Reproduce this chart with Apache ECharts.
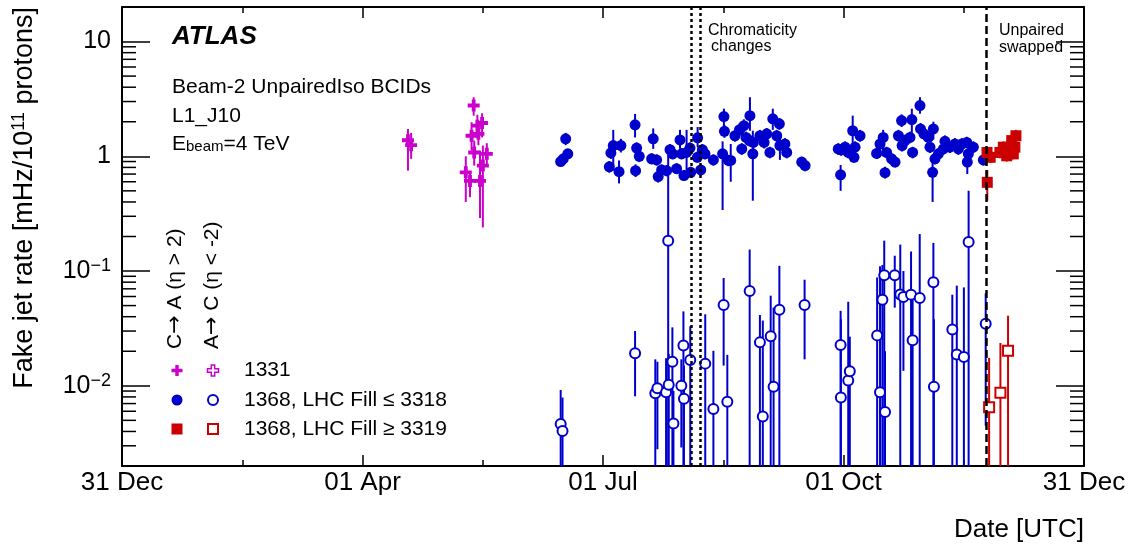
<!DOCTYPE html>
<html>
<head>
<meta charset="utf-8">
<script src="https://cdn.jsdelivr.net/npm/echarts@6/dist/echarts.min.js"></script>
<style>
html,body{margin:0;padding:0;background:#fff;}
#chart{width:1147px;height:548px;}
</style>
</head>
<body>
<div id="chart"></div>
<script>
// ---------- axes ----------
const xTickLabels = ['31 Dec', '01 Apr', '01 Jul', '01 Oct', '31 Dec']; // days since 31 Dec 2011, step 91.5
const xStepDays = 91.5;
const yTickValues = [0.01, 0.1, 1, 10];
const yTickLabels = ['10{s|\u22122}', '10{s|\u22121}', '1', '10'];
const yMinorTicks = [0.003,0.004,0.005,0.006,0.007,0.008,0.009,
                     0.02,0.03,0.04,0.05,0.06,0.07,0.08,0.09,
                     0.2,0.3,0.4,0.5,0.6,0.7,0.8,0.9,
                     2,3,4,5,6,7,8,9];

// ---------- vertical reference lines (days since 31 Dec 2011) ----------
const chromaticityDays = [216.4, 219.9];
const unpairedSwapDay = [329.0];

// ---------- BCID 1331, C->A (eta > 2) ----------
const b1331Days = [108.8, 110.0, 130.8, 132.4, 133.0, 133.8, 134.0, 135.2, 135.6, 136.2, 137.0, 137.3, 138.8];
const b1331Rate = [1.38, 1.25, 0.725, 0.61, 1.51, 2.77, 1.08, 1.85, 1.57, 0.61, 1.95, 0.83, 1.05];
const b1331Lo   = [0.75, 0.95, 0.40, 0.44, 1.12, 2.26, 0.83, 1.45, 1.25, 0.29, 1.46, 0.24, 0.85];
const b1331Hi   = [1.73, 1.60, 1.00, 0.70, 1.98, 3.27, 1.37, 2.30, 2.00, 1.12, 2.37, 1.24, 1.30];
// BCID 1331, A->C (eta < -2): no points in range
const b1331ACDays = [];
const b1331ACRate = [];

// ---------- BCID 1368, LHC Fill <= 3318, C->A ----------
const early368Days = [166.9,167.9,168.8,169.6,185.4,186.0,186.9,189.1,189.8,195.2,195.4,195.8,196.8,201.5,202.1,203.4,204.0,205.3,207.2,208.5,
  209.5,211.0,212.3,212.9,213.8,214.8,216.1,216.4,218.9,219.0,220.2,220.8,221.8,225.0,228.5,229.0,229.2,230.7,231.6,233.2,
  234.9,235.8,236.6,237.4,238.7,238.9,240.0,240.2,242.7,244.3,245.3,246.5,247.6,249.1,250.1,250.3,252.2,252.9,258.6,259.9,
  272.5,273.4,273.6,275.1,276.3,278.0,278.5,278.9,280.8,287.1,288.4,289.6,290.3,290.9,292.8,294.1,295.4,296.6,296.8,297.9,
  299.8,300.5,300.8,303.6,303.8,305.1,306.8,307.4,308.4,308.7,309.3,310.6,312.5,313.1,315.0,316.9,318.2,319.5,321.4,321.6,
  322.0,323.9,327.7];
const early368Rate = [0.90,0.95,1.42,1.05,0.81,1.07,1.24,0.735,1.24,1.88,0.75,1.18,1.00,0.95,1.42,0.93,0.665,0.76,0.75,1.14,
  1.05,0.78,1.39,1.05,0.68,1.08,1.18,0.725,0.98,1.45,0.76,1.14,1.05,0.93,1.05,2.22,1.65,0.92,0.92,1.51,
  1.70,1.16,1.85,1.46,1.37,2.26,1.05,1.32,1.51,1.32,1.57,1.08,2.12,1.51,1.92,1.24,1.28,1.08,0.89,0.83,
  1.16,0.69,1.14,1.20,1.08,1.67,0.98,1.20,1.51,1.06,1.28,1.46,0.72,1.08,0.95,0.89,1.51,2.05,1.24,1.37,
  1.46,2.09,1.08,2.77,1.73,1.57,1.46,1.20,0.725,1.73,0.95,1.05,1.16,1.35,1.20,1.28,1.16,1.28,1.32,0.89,
  1.05,1.20,0.93];
const early368Lo = [0.82,0.86,1.25,0.95,0.72,0.95,0.75,0.58,1.08,1.46,0.66,1.05,0.89,0.85,1.16,0.83,0.59,0.68,0.67,1.01,
  0.94,0.70,1.16,0.94,0.61,0.72,1.05,0.65,0.88,1.20,0.68,1.01,0.94,0.83,0.34,1.75,1.45,0.82,0.60,1.34,
  1.50,1.03,1.63,1.30,1.22,1.67,0.41,1.17,1.34,1.17,1.40,0.96,1.70,1.34,1.70,0.93,1.14,0.96,0.80,0.74,
  1.03,0.50,1.01,1.07,0.96,1.29,0.88,1.07,1.34,0.95,1.14,1.00,0.64,0.96,0.85,0.80,1.34,1.80,1.10,1.22,
  1.30,1.60,0.96,2.35,1.53,1.40,1.30,1.07,0.40,1.40,0.85,0.94,1.03,1.20,1.07,1.14,1.03,1.14,1.17,0.70,
  0.94,1.07,0.83];
const early368Hi = [0.99,1.05,1.60,1.16,0.91,1.20,1.70,0.92,1.42,2.34,0.85,1.32,1.12,1.06,1.75,1.04,0.75,0.85,0.84,1.28,
  1.18,0.87,1.70,1.18,0.76,1.70,1.32,0.81,1.10,1.80,0.85,1.28,1.18,1.04,1.35,2.60,1.88,1.03,1.28,1.70,
  1.92,1.30,2.10,1.64,1.54,3.27,1.67,1.48,1.70,1.48,1.76,1.21,2.60,1.70,2.16,1.46,1.44,1.21,0.99,0.93,
  1.30,0.84,1.28,1.35,1.21,2.26,1.10,1.35,1.70,1.19,1.44,1.70,0.81,1.21,1.06,0.99,1.70,2.32,1.40,1.54,
  1.64,2.60,1.21,3.27,1.95,1.76,1.64,1.35,0.95,2.00,1.06,1.18,1.30,1.52,1.35,1.44,1.30,1.44,1.48,1.05,
  1.18,1.35,1.04];

// ---------- BCID 1368, LHC Fill <= 3318, A->C ----------
const early368ACDays = [166.9,167.6,195.2,202.9,203.7,207.0,207.8,208.0,209.4,209.8,212.8,213.6,213.8,216.2,221.9,225.0,228.9,230.3,238.8,242.7,
  243.8,246.8,247.9,250.1,259.7,273.4,273.5,276.3,276.9,287.3,288.4,289.3,290.0,290.3,294.0,296.1,297.3,300.2,300.8,303.5,
  308.7,308.9,315.9,317.6,320.3,322.1,328.6];
const early368ACRate = [0.00465,0.00404,0.0192,0.0086,0.0095,0.0088,0.184,0.0102,0.0162,0.0047,0.0100,0.0224,0.0077,0.0168,0.0156,0.00628,0.0506,0.00727,0.067,0.0239,
  0.0054,0.027,0.0098,0.046,0.0506,0.0227,0.0079,0.0111,0.0134,0.0275,0.0088,0.0563,0.0918,0.0059,0.0918,0.0626,0.0594,0.0623,0.0249,0.0582,
  0.0797,0.0098,0.031,0.0187,0.0178,0.179,0.0348];
const early368ACLo = [0.001,0.001,0.0081,0.001,0.0028,0.001,0.001,0.001,0.001,0.001,0.0029,0.001,0.001,0.001,0.001,0.001,0.0150,0.001,0.001,0.001,
  0.001,0.001,0.001,0.001,0.017,0.001,0.001,0.001,0.001,0.001,0.001,0.001,0.001,0.001,0.048,0.001,0.0135,0.001,0.001,0.001,
  0.001,0.001,0.001,0.001,0.001,0.001,0.0045];
const early368ACHi = [0.0092,0.0079,0.030,0.017,0.0162,0.0174,1.15,0.019,0.0323,0.009,0.0170,0.0445,0.015,0.033,0.042,0.0202,0.087,0.0186,0.154,0.0414,
  0.037,0.061,0.048,0.111,0.084,0.045,0.038,0.054,0.0268,0.088,0.11,0.113,0.184,0.02,0.136,0.17,0.10,0.148,0.06,0.21,
  0.176,0.038,0.0622,0.0746,0.072,0.50,0.064];

// ---------- BCID 1368, LHC Fill >= 3319, C->A ----------
const late368Days = [329.1, 329.2, 330.3, 334.0, 335.3, 336.6, 337.8, 338.5, 339.1, 339.7, 340.1];
const late368Rate = [1.08, 0.593, 0.98, 1.08, 1.20, 1.01, 1.20, 1.37, 1.05, 1.20, 1.51];
const late368Lo   = [0.96, 0.41, 0.88, 0.96, 1.07, 0.90, 1.07, 1.22, 0.94, 1.07, 1.34];
const late368Hi   = [1.21, 0.76, 1.10, 1.21, 1.35, 1.13, 1.35, 1.54, 1.18, 1.35, 1.70];

// ---------- BCID 1368, LHC Fill >= 3319, A->C ----------
const late368ACDays = [329.9, 334.2, 337.1];
const late368ACRate = [0.0065, 0.0087, 0.0202];
const late368ACLo   = [0.001, 0.001, 0.001];
const late368ACHi   = [0.0175, 0.0236, 0.0408];

// ---------- styling ----------
const FONT = '"Liberation Sans", Arial, Helvetica, sans-serif';
const MAGENTA = '#cc00cc', BLUE = '#0000cc', RED = '#cc0000';
const PLUS = 'path://M3.4,0H6.6V3.4H10V6.6H6.6V10H3.4V6.6H0V3.4H3.4Z';

function pts(days, rate) { return days.map((d, i) => [d, rate[i]]); }
function errPts(days, lo, hi) { return days.map((d, i) => [d, lo[i], hi[i]]); }

function errSeries(days, lo, hi, color) {
  return {
    type: 'custom', xAxisIndex: 0, yAxisIndex: 0, silent: true, z: 2,
    data: errPts(days, lo, hi),
    encode: { x: 0, y: [1, 2] },
    renderItem: function (params, api) {
      const cs = params.coordSys;
      const a = api.coord([api.value(0), api.value(1)]);
      const b = api.coord([api.value(0), api.value(2)]);
      const clamp = v => Math.max(cs.y, Math.min(cs.y + cs.height, v));
      return { type: 'line', shape: { x1: a[0], y1: clamp(a[1]), x2: b[0], y2: clamp(b[1]) },
               style: { stroke: color, lineWidth: 2 } };
    }
  };
}

function plusPoints(cx, cy, s, t) {
  const h = s / 2, w = t / 2;
  return [[cx - w, cy - h], [cx + w, cy - h], [cx + w, cy - w], [cx + h, cy - w], [cx + h, cy + w], [cx + w, cy + w],
          [cx + w, cy + h], [cx - w, cy + h], [cx - w, cy + w], [cx - h, cy + w], [cx - h, cy - w], [cx - w, cy - w]];
}

const chart = echarts.init(document.getElementById('chart'), null, { renderer: 'canvas' });

const xAxisBase = {
  type: 'value', min: 0, max: 366, interval: xStepDays,
  axisLine: { show: true, onZero: false, lineStyle: { color: '#000', width: 2 } },
  axisTick: { show: true, inside: true, length: 11, lineStyle: { color: '#000', width: 1.5 } },
  minorTick: { show: true, splitNumber: 2, length: 6, lineStyle: { color: '#000', width: 1.5 } },
  splitLine: { show: false }, minorSplitLine: { show: false }
};
const yAxisBase = {
  type: 'log', logBase: 10, min: 0.002, max: 20,
  axisLine: { show: true, onZero: false, lineStyle: { color: '#000', width: 2 } },
  axisTick: { show: true, inside: true, length: 28, lineStyle: { color: '#000', width: 1.5 } },
  splitLine: { show: false }, minorTick: { show: false }
};

const arrowStyle = { fontFamily: '"DejaVu Sans", sans-serif', fontSize: 22, fill: '#000' };

const option = {
  animation: false,
  backgroundColor: '#fff',
  grid: { left: 122, top: 7, width: 962, height: 459, outerBoundsMode: 'none', containLabel: false },
  xAxis: [
    Object.assign({}, xAxisBase, {
      position: 'bottom',
      axisLabel: {
        show: true, color: '#000', fontSize: 26, fontFamily: FONT, margin: 4,
        showMinLabel: true, showMaxLabel: true,
        formatter: v => { const i = Math.round(v / xStepDays); return Math.abs(i * xStepDays - v) < 1e-6 ? (xTickLabels[i] || '') : ''; }
      }
    }),
    Object.assign({}, xAxisBase, { position: 'top', axisLabel: { show: false } })
  ],
  yAxis: [
    Object.assign({}, yAxisBase, {
      position: 'left',
      axisLabel: {
        show: true, color: '#000', fontSize: 25, fontFamily: FONT, margin: 11,
        formatter: v => {
          const i = yTickValues.findIndex(t => Math.abs(Math.log10(v / t)) < 1e-6);
          return i < 0 ? '' : yTickLabels[i];
        },
        rich: { s: { fontSize: 18, fontFamily: FONT, color: '#000', verticalAlign: 'bottom', padding: [0, 0, 10, 0] } }
      }
    }),
    Object.assign({}, yAxisBase, { position: 'right', axisLabel: { show: false } })
  ],
  series: [
    errSeries(b1331Days, b1331Lo, b1331Hi, MAGENTA),
    errSeries(early368Days, early368Lo, early368Hi, BLUE),
    errSeries(early368ACDays, early368ACLo, early368ACHi, BLUE),
    errSeries(late368Days, late368Lo, late368Hi, RED),
    errSeries(late368ACDays, late368ACLo, late368ACHi, RED),
    { name: '1331 C\u2192A', type: 'scatter', z: 3, symbol: PLUS, symbolSize: 12,
      itemStyle: { color: MAGENTA, opacity: 1 }, data: pts(b1331Days, b1331Rate) },
    { name: '1331 A\u2192C', type: 'scatter', z: 3, symbol: PLUS, symbolSize: 12,
      itemStyle: { color: '#fff', borderColor: MAGENTA, borderWidth: 1.5, opacity: 1 }, data: pts(b1331ACDays, b1331ACRate) },
    { name: '1368 Fill<=3318 A\u2192C', type: 'scatter', z: 3, symbol: 'emptyCircle', symbolSize: 10,
      itemStyle: { color: BLUE, borderColor: BLUE, borderWidth: 2, opacity: 1 }, data: pts(early368ACDays, early368ACRate) },
    { name: '1368 Fill<=3318 C\u2192A', type: 'scatter', z: 3, symbol: 'circle', symbolSize: 11,
      itemStyle: { color: BLUE, opacity: 1 }, data: pts(early368Days, early368Rate),
      markLine: {
        silent: true, symbol: ['none', 'none'], label: { show: false }, animation: false,
        data: chromaticityDays.map(d => ({ xAxis: d, lineStyle: { color: '#000', width: 2.5, type: [3, 3] } }))
          .concat(unpairedSwapDay.map(d => ({ xAxis: d, lineStyle: { color: '#000', width: 2.5, type: [8, 4] } })))
      } },
    { name: '1368 Fill>=3319 A\u2192C', type: 'scatter', z: 3, symbol: 'emptyRect', symbolSize: 10,
      itemStyle: { color: RED, borderColor: RED, borderWidth: 2, opacity: 1 }, data: pts(late368ACDays, late368ACRate) },
    { name: '1368 Fill>=3319 C\u2192A', type: 'scatter', z: 3, symbol: 'rect', symbolSize: 11,
      itemStyle: { color: RED, opacity: 1 }, data: pts(late368Days, late368Rate) },
    { type: 'custom', silent: true, z: 4, xAxisIndex: 0, yAxisIndex: 0,
      data: yMinorTicks.map(v => [0, v]), encode: { x: 0, y: 1 },
      renderItem: function (params, api) {
        const cs = params.coordSys;
        const y = api.coord([0, api.value(1)])[1];
        return { type: 'group', children: [
          { type: 'line', shape: { x1: cs.x, y1: y, x2: cs.x + 14, y2: y }, style: { stroke: '#000', lineWidth: 1.5 } },
          { type: 'line', shape: { x1: cs.x + cs.width - 14, y1: y, x2: cs.x + cs.width, y2: y }, style: { stroke: '#000', lineWidth: 1.5 } }
        ] };
      } }
  ],
  graphic: [
    { type: 'text', x: 172, y: 37, z: 10, style: { text: 'ATLAS', fontFamily: FONT, fontSize: 26, fontWeight: 'bold', fontStyle: 'italic', fill: '#000', verticalAlign: 'middle' } },
    { type: 'text', x: 172, y: 87, z: 10, style: { text: 'Beam-2 UnpairedIso BCIDs', fontFamily: FONT, fontSize: 21, fill: '#000', verticalAlign: 'middle' } },
    { type: 'text', x: 172, y: 116, z: 10, style: { text: 'L1_J10', fontFamily: FONT, fontSize: 21, fill: '#000', verticalAlign: 'middle' } },
    { type: 'text', x: 172, y: 144, z: 10, style: { text: 'E{b|beam}=4 TeV', fontFamily: FONT, fontSize: 21, fill: '#000', verticalAlign: 'middle',
        rich: { b: { fontFamily: FONT, fontSize: 15, fill: '#000', verticalAlign: 'bottom', padding: [6, 0, 0, 0] } } } },
    { type: 'text', x: 708, y: 31, z: 10, style: { text: 'Chromaticity', fontFamily: FONT, fontSize: 16, fill: '#000', verticalAlign: 'middle' } },
    { type: 'text', x: 711, y: 47, z: 10, style: { text: 'changes', fontFamily: FONT, fontSize: 16, fill: '#000', verticalAlign: 'middle' } },
    { type: 'text', x: 999, y: 31, z: 10, style: { text: 'Unpaired', fontFamily: FONT, fontSize: 16, fill: '#000', verticalAlign: 'middle' } },
    { type: 'text', x: 999, y: 48, z: 10, style: { text: 'swapped', fontFamily: FONT, fontSize: 16, fill: '#000', verticalAlign: 'middle' } },
    // axis titles
    { type: 'text', x: 25, y: 7, rotation: Math.PI / 2, z: 10,
      style: { text: 'Fake jet rate [mHz/10{s|11} protons]', fontFamily: FONT, fontSize: 27, fill: '#000', align: 'right', verticalAlign: 'middle',
        rich: { s: { fontFamily: FONT, fontSize: 18, fill: '#000', verticalAlign: 'bottom', padding: [0, 0, 11, 0] } } } },
    { type: 'text', x: 1084, y: 530, z: 10, style: { text: 'Date [UTC]', fontFamily: FONT, fontSize: 26, fill: '#000', align: 'right', verticalAlign: 'middle' } },
    // legend column headers
    { type: 'text', x: 175, y: 349, rotation: Math.PI / 2, z: 10, style: { text: 'C{a|\u2192} A (\u03B7 > 2)', fontFamily: FONT, fontSize: 21, fill: '#000', align: 'left', verticalAlign: 'middle', rich: { a: arrowStyle } } },
    { type: 'text', x: 212, y: 349, rotation: Math.PI / 2, z: 10, style: { text: 'A{a|\u2192} C (\u03B7 < -2)', fontFamily: FONT, fontSize: 21, fill: '#000', align: 'left', verticalAlign: 'middle', rich: { a: arrowStyle } } },
    // legend keys
    { type: 'polygon', z: 10, shape: { points: plusPoints(177, 370.5, 11, 3.4) }, style: { fill: MAGENTA } },
    { type: 'polygon', z: 10, shape: { points: plusPoints(213, 370.5, 11, 3.4) }, style: { fill: '#fff', stroke: MAGENTA, lineWidth: 1.5 } },
    { type: 'circle', z: 10, shape: { cx: 177, cy: 400, r: 5.5 }, style: { fill: BLUE } },
    { type: 'circle', z: 10, shape: { cx: 213, cy: 400, r: 5 }, style: { fill: '#fff', stroke: BLUE, lineWidth: 2 } },
    { type: 'rect', z: 10, shape: { x: 171.5, y: 423.5, width: 11, height: 11 }, style: { fill: RED } },
    { type: 'rect', z: 10, shape: { x: 208, y: 424, width: 10, height: 10 }, style: { fill: '#fff', stroke: RED, lineWidth: 2 } },
    { type: 'text', x: 244, y: 370.5, z: 10, style: { text: '1331', fontFamily: FONT, fontSize: 21, fill: '#000', verticalAlign: 'middle' } },
    { type: 'text', x: 244, y: 400, z: 10, style: { text: '1368, LHC Fill \u2264 3318', fontFamily: FONT, fontSize: 21, fill: '#000', verticalAlign: 'middle' } },
    { type: 'text', x: 244, y: 429, z: 10, style: { text: '1368, LHC Fill \u2265 3319', fontFamily: FONT, fontSize: 21, fill: '#000', verticalAlign: 'middle' } }
  ]
};
chart.setOption(option);
</script>
</body>
</html>
